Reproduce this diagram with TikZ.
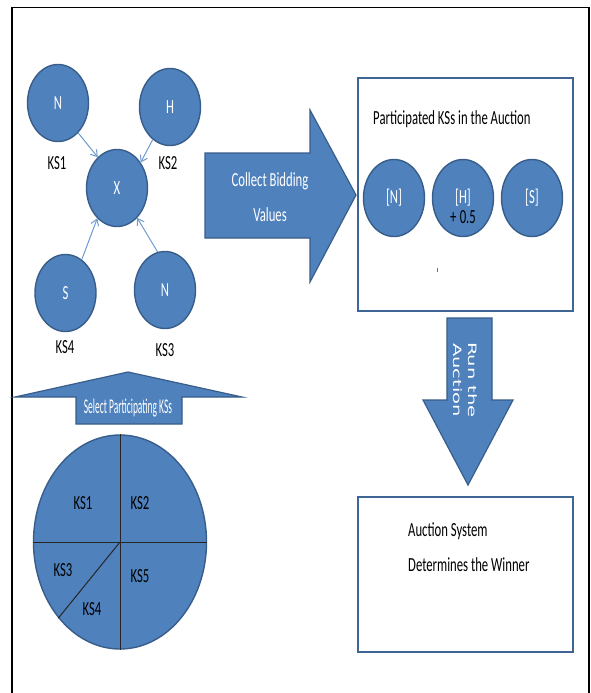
\documentclass[tikz,border=0pt]{standalone}
\usepackage{fontspec}
\setmainfont{Carlito}[FakeStretch=0.635]
\newfontfamily\narrowfont{Carlito}[FakeStretch=0.45]
\newfontfamily\verdfont{DejaVu Sans}[FakeStretch=1.7]
\usetikzlibrary{shapes.geometric,arrows.meta}
\definecolor{ofblue}{HTML}{4F81BD}
\definecolor{ofedge}{HTML}{385D8A}
\definecolor{linkblue}{HTML}{6F9BD1}
\definecolor{boxedge}{HTML}{3F6595}

\begin{document}
\begin{tikzpicture}[x=1pt,y=-1pt,
  txt/.style={font=\fontsize{20}{24}\selectfont, inner sep=0pt},
  lbl/.style={txt, anchor=base},
  ks/.style={ellipse, fill=ofblue, draw=ofedge, line width=1.4pt,
    minimum width=61pt, minimum height=77pt, inner sep=0pt,
    text=white, font=\fontsize{20}{24}\selectfont},
  link/.style={draw=linkblue, line width=1pt,
    -{Straight Barb[length=6pt,width=8pt]}},
  bigarrow/.style={fill=ofblue, draw=ofedge, line width=1.2pt, line join=miter},
  panel/.style={draw=boxedge, line width=2.4pt, fill=white, inner sep=0pt},
  divider/.style={draw=black!85, line width=1pt}
]
\useasboundingbox (0,0) rectangle (591,693);
\fill[white] (0,0) rectangle (591,693);
% outer frame (open at the bottom)
\draw[line width=1.6pt] (12,693) -- (12,7.5) -- (589,7.5) -- (589,693);

% knowledge sources feeding the central node
\node[ks] (n1) at (58,103) {N};
\node[ks] (h2) at (170,107) {H};
\node[ks] (x)  at (117,188) {X};
\node[ks] (s4) at (65.5,293) {S};
\node[ks] (n3) at (165,290) {N};

\node[lbl] (l1) at (57,169.5) {KS1};
\node[lbl] (l2) at (168,169.5) {KS2};
\node[lbl] (l4) at (65,353.5) {KS4};
\node[lbl] (l3) at (165,356.5) {KS3};

\draw[link] (n1.-56.7) -- (x.122.8);
\draw[link] (h2.-118.6) -- (x.47.4);
\draw[link] (s4.64.7) -- (x.-123.7);
\draw[link] (n3.101) -- (x.-56);

% block arrow: collect bidding values
\draw[bigarrow] (205,153) -- (310,153) -- (310,110) -- (356,195) -- (310,282)
  -- (310,238) -- (205,238) -- cycle;
\node[lbl, text=white] (c1) at (270,186.5) {Collect Bidding};
\node[lbl, text=white] (c2) at (270,221.5) {Values};

% participants panel
\node[panel, minimum width=215pt, minimum height=233pt] (pbox) at (465.5,194.5) {};
\node[lbl, anchor=base west] (ptitle) at (373,124.5) {Participated KSs in the Auction};
\node[ks] (pn) at (394,198) {[N]};
\node[ks] (ph) at (463,198) {[H]};
\node[ks] (ps) at (532,198) {[S]};
\node[lbl, text=black] (bonus) at (463,223.5) {+\,0.5};
\draw[red!80, line width=0.8pt] (437,267.5) -- (437,272);

% block arrow: run the auction
\draw[bigarrow] (447,318) -- (492,318) -- (492,400) -- (513,400) -- (468,485)
  -- (423,400) -- (447,400) -- cycle;
\node[font=\verdfont\fontsize{11.5}{15}\selectfont, text=white, rotate=-90,
  align=center, inner sep=0pt] (run) at (465,380) {Run the\\Auction};

% result panel
\node[panel, minimum width=215pt, minimum height=155pt] (wbox) at (465.5,574.5) {};
\node[lbl, anchor=base west] (w1) at (408,536.5) {Auction System};
\node[lbl, anchor=base west] (w2) at (408,571.5) {Determines the Winner};

% block arrow: select participating KSs
\draw[bigarrow] (76,424) -- (76,397) -- (15,397) -- (128,372) -- (242,397)
  -- (182,397) -- (182,424) -- cycle;
\node[text=white, font=\narrowfont\fontsize{21}{25}\selectfont, inner sep=0pt,
  anchor=base] (sel) at (128,413.5) {Select Participating KSs};

% pie of knowledge sources
\node[ellipse, fill=ofblue, draw=ofedge, line width=1.4pt, minimum width=173pt,
  minimum height=214pt, inner sep=0pt] (pie) at (120,542) {};
\draw[divider] (pie.north) -- (pie.south);
\draw[divider] (pie.west) -- (pie.east);
\draw[divider] (pie.center) -- (pie.231.3);
\node[lbl] (p1) at (83,509.5) {KS1};
\node[lbl] (p2) at (140,509.5) {KS2};
\node[lbl] (p3) at (63,576.5) {KS3};
\node[lbl] (p4) at (92,615.5) {KS4};
\node[lbl] (p5) at (140,582.5) {KS5};
\end{tikzpicture}
\end{document}
